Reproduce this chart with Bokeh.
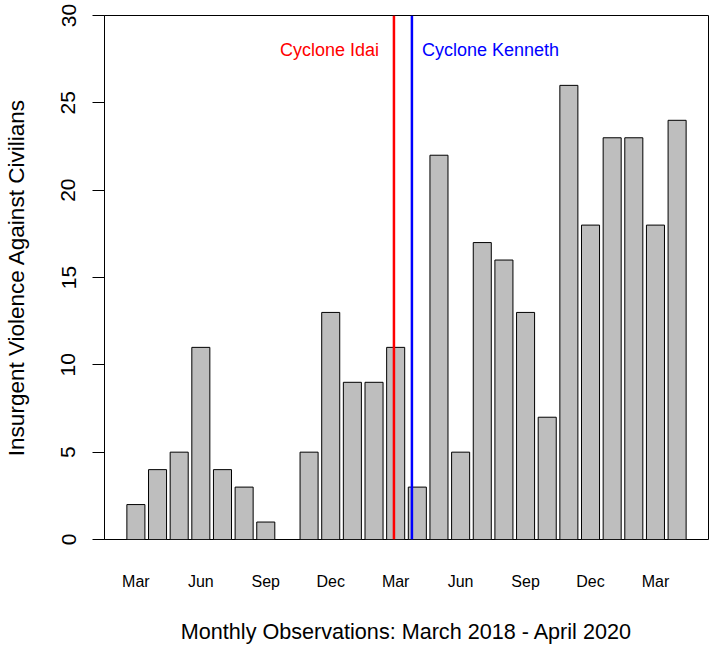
from bokeh.plotting import figure
from bokeh.models import ColumnDataSource, FixedTicker, Span, Range1d
from bokeh.core.properties import value
from bokeh.embed import file_html
from bokeh.resources import INLINE

# ---- data ----
months = ["Mar 2018", "Apr 2018", "May 2018", "Jun 2018", "Jul 2018", "Aug 2018",
          "Sep 2018", "Oct 2018", "Nov 2018", "Dec 2018", "Jan 2019", "Feb 2019",
          "Mar 2019", "Apr 2019", "May 2019", "Jun 2019", "Jul 2019", "Aug 2019",
          "Sep 2019", "Oct 2019", "Nov 2019", "Dec 2019", "Jan 2020", "Feb 2020",
          "Mar 2020", "Apr 2020"]
violence = [2, 4, 5, 11, 4, 3, 1, 0, 5, 13, 9, 9, 11, 3, 22, 5, 17, 16, 13, 7,
            26, 18, 23, 23, 18, 24]
tick_months = [0, 3, 6, 9, 12, 15, 18, 21, 24]
tick_labels = ["Mar", "Jun", "Sep", "Dec", "Mar", "Jun", "Sep", "Dec", "Mar"]
y_ticks = [0, 5, 10, 15, 20, 25, 30]
# cyclone landfall positions on the month axis (Idai mid-March 2019, Kenneth late April 2019)
cyclone_names = ["Cyclone Idai", "Cyclone Kenneth"]
cyclone_x = [11.92, 12.75]
cyclone_label_y = [28, 28]
cyclone_colors = ["#FF0000", "#0000FF"]

FONT = "Liberation Sans"

x_idx = list(range(len(months)))
src = ColumnDataSource(dict(x=x_idx, top=violence, month=months))

p = figure(width=709, height=646, output_backend="svg", toolbar_location=None,
           x_range=Range1d(-1.45, 26.45), y_range=Range1d(0, 30),
           min_border_left=104, min_border_right=1, min_border_top=15,
           min_border_bottom=107)
p.grid.visible = False
p.outline_line_color = "black"
p.outline_line_width = 1
p.background_fill_color = "white"
p.border_fill_color = "white"

p.vbar(x="x", top="top", bottom=0, width=1 / 1.2, source=src,
       fill_color="#BEBEBE", line_color="black", line_width=1)

for cx, col in zip(cyclone_x, cyclone_colors):
    p.add_layout(Span(location=cx, dimension="height", line_color=col,
                      line_width=2.5))

p.text(x=[cyclone_x[0]], y=[cyclone_label_y[0]], text=[cyclone_names[0]],
       text_color=cyclone_colors[0], text_font=value(FONT), text_font_size="18px",
       text_align="right", text_baseline="middle", x_offset=-15)
p.text(x=[cyclone_x[1]], y=[cyclone_label_y[1]], text=[cyclone_names[1]],
       text_color=cyclone_colors[1], text_font=value(FONT), text_font_size="18px",
       text_align="left", text_baseline="middle", x_offset=10)

# y axis
ya = p.yaxis[0]
ya.ticker = FixedTicker(ticks=y_ticks)
ya.axis_line_color = "black"
ya.major_tick_line_color = "black"
ya.major_tick_out = 12
ya.major_tick_in = 0
ya.minor_tick_line_color = None
ya.major_label_orientation = "parallel"
ya.major_label_text_font = FONT
ya.major_label_text_font_size = "21px"
ya.major_label_text_color = "black"
ya.major_label_standoff = 17
ya.axis_label = "Insurgent Violence Against Civilians"
ya.axis_label_text_font = FONT
ya.axis_label_text_font_size = "22.5px"
ya.axis_label_text_font_style = "normal"
ya.axis_label_text_color = "black"
ya.axis_label_standoff = 30

# x axis
xa = p.xaxis[0]
xa.ticker = FixedTicker(ticks=tick_months)
xa.major_label_overrides = {m: lab for m, lab in zip(tick_months, tick_labels)}
xa.axis_line_color = None
xa.major_tick_line_color = None
xa.major_tick_out = 0
xa.major_tick_in = 0
xa.minor_tick_line_color = None
xa.major_label_text_font = FONT
xa.major_label_text_font_size = "16px"
xa.major_label_text_color = "black"
xa.major_label_standoff = 33
xa.axis_label = "Monthly Observations: March 2018 - April 2020"
xa.axis_label_text_font = FONT
xa.axis_label_text_font_size = "21.6px"
xa.axis_label_text_font_style = "normal"
xa.axis_label_text_color = "black"
xa.axis_label_standoff = 26

open("out.html", "w").write(file_html(p, INLINE))
